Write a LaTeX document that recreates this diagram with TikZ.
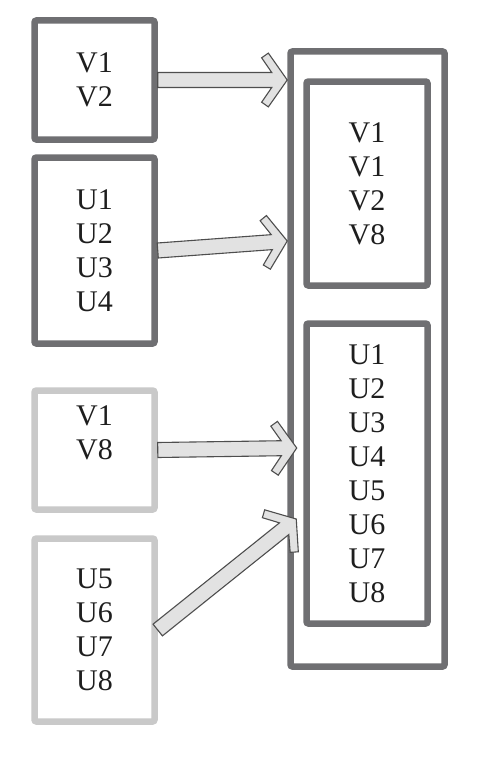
\documentclass[tikz,border=0pt]{standalone}
\usepackage{fontspec}
\setmainfont{Liberation Serif}
\definecolor{dk}{HTML}{6F6F72}
\definecolor{lt}{HTML}{C9C9C9}
\definecolor{af}{HTML}{E2E2E2}
\definecolor{ao}{HTML}{4E4E4E}
\definecolor{tx}{HTML}{1E1E1E}
\newcommand\blockarrow[2]{%
  \pgfmathanglebetweenpoints{\pgfpointanchor{#1}{center}}{\pgfpointanchor{#2}{center}}%
  \edef\baang{\pgfmathresult}%
  \pgfpointdiff{\pgfpointanchor{#1}{center}}{\pgfpointanchor{#2}{center}}%
  \pgfgetlastxy{\bax}{\bay}%
  \pgfmathveclen{\bax}{\bay}%
  \edef\balen{\pgfmathresult}%
  \begin{scope}[shift={(#1)}, rotate=\baang]
    \draw[arrowbody] (0pt,7.5pt) -- ({\balen pt-15.5pt},7.5pt) -- ({\balen pt-25.6pt},22.2pt)
      -- ({\balen pt-18.9pt},26.9pt) -- ({\balen pt},0pt) -- ({\balen pt-18.9pt},-26.9pt)
      -- ({\balen pt-25.6pt},-22.2pt) -- ({\balen pt-15.5pt},-7.5pt) -- (0pt,-7.5pt) -- cycle;
  \end{scope}}
\begin{document}
\begin{tikzpicture}[x=1pt,y=-1pt,
  lbl/.style={inner sep=0pt, align=center, text=tx, font=\fontsize{30}{34}\selectfont},
  box/.style={lbl, draw=dk, line width=6.5pt, rounded corners=2pt},
  lightbox/.style={box, draw=lt},
  arrowbody/.style={draw=ao, line width=1.1pt, fill=af, line join=miter}]
\useasboundingbox (0,0) rectangle (477,768);
\fill[white] (0,0) rectangle (477,768);
% left boxes
\node[box, minimum width=120pt, minimum height=119pt] (b1) at (94.5,80) {V1\\V2};
\node[box, minimum width=120pt, minimum height=186pt] (b2) at (94.5,250.5) {U1\\U2\\U3\\U4};
\node[lightbox, minimum width=120pt, minimum height=119pt] (b3) at (94.5,450) {};
\node[lbl] (t3) at (94.5,433) {V1\\V8};
\node[lightbox, minimum width=120pt, minimum height=183pt] (b4) at (94.5,630) {U5\\U6\\U7\\U8};
% right boxes
\node[box, minimum width=154pt, minimum height=615pt] (outer) at (367.5,359) {};
\node[box, minimum width=121pt, minimum height=204pt] (in1) at (367,183.5) {V1\\V1\\V2\\V8};
\node[box, minimum width=121pt, minimum height=300pt] (in2) at (367,473.5) {U1\\U2\\U3\\U4\\U5\\U6\\U7\\U8};
% arrow ends
\coordinate (s1) at (b1.east);
\coordinate (t1) at (outer.west |- b1.east);
\coordinate (s2) at (b2.east);
\coordinate (t2) at ([yshift=9.5pt]outer.west |- b2.east);
\coordinate (s3) at (b3.east);
\coordinate (t3e) at ([xshift=9.5pt,yshift=2pt]outer.west |- b3.east);
\coordinate (s4) at (b4.east);
\coordinate (t4) at ([xshift=9pt,yshift=111pt]outer.west |- b4.east);
\blockarrow{s1}{t1}
\blockarrow{s2}{t2}
\blockarrow{s3}{t3e}
\blockarrow{s4}{t4}
\end{tikzpicture}
\end{document}
